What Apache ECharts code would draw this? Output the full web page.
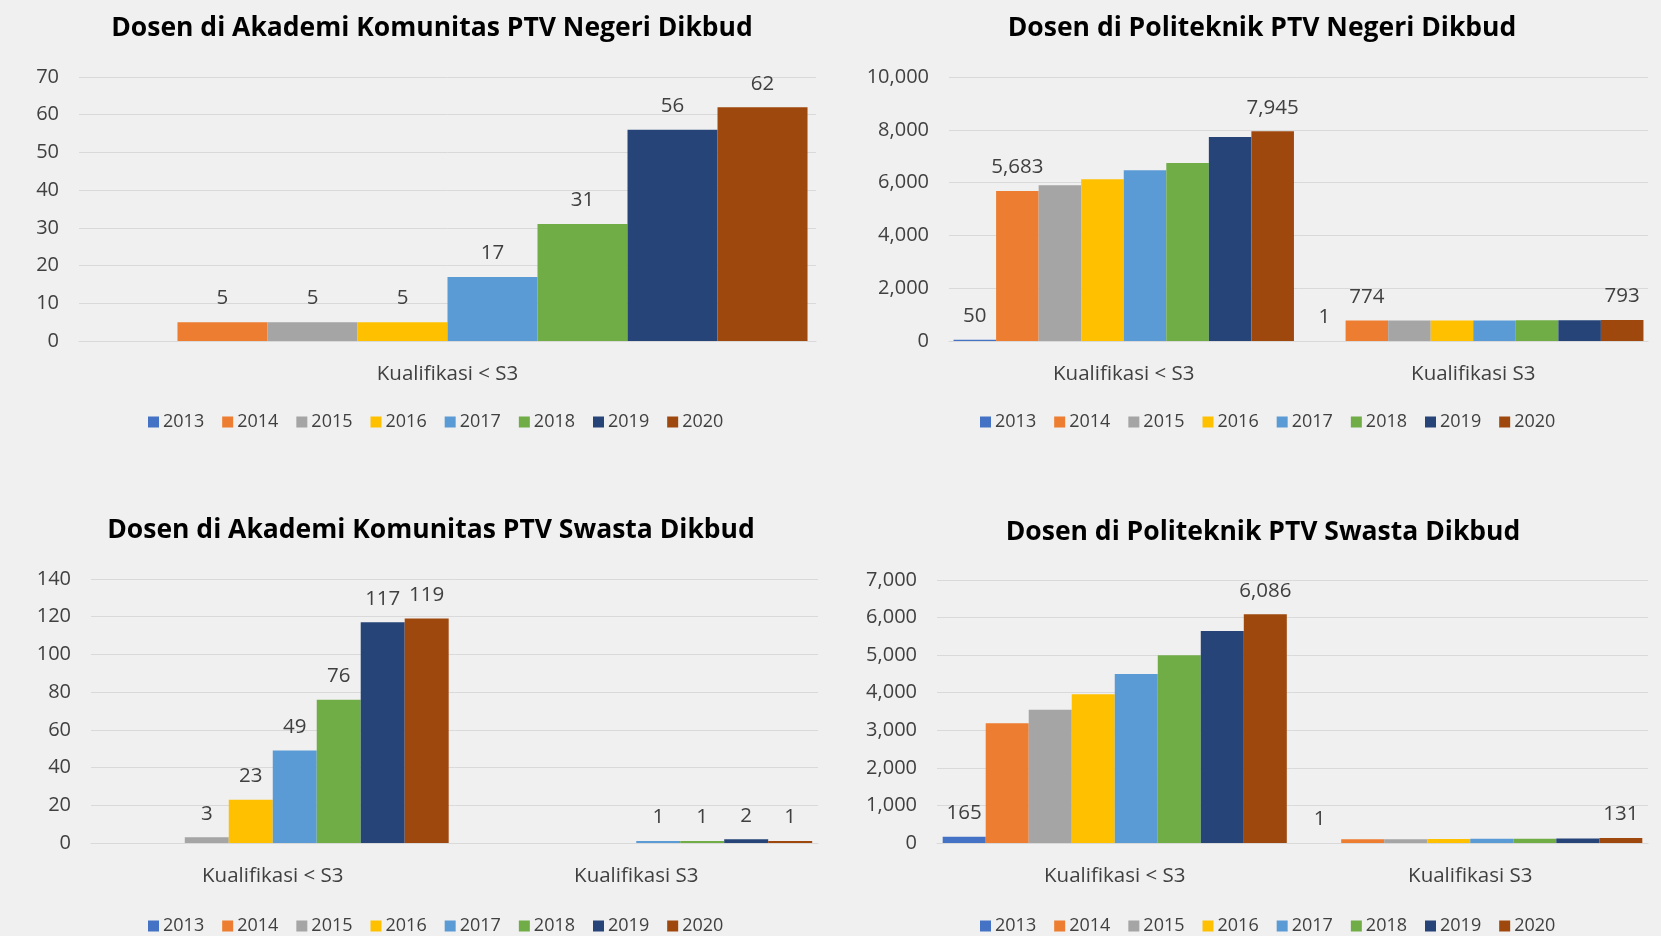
<!DOCTYPE html>
<html>
<head>
<meta charset="utf-8">
<script src="https://cdn.jsdelivr.net/npm/echarts@6/dist/echarts.min.js"></script>
<style>
html,body{margin:0;padding:0;background:#f0f0f0;}
#main{width:1661px;height:936px;}
</style>
</head>
<body>
<div id="main"></div>
<script>
// ---- data ----
const years = ['2013', '2014', '2015', '2016', '2017', '2018', '2019', '2020'];
const catsOne = ['Kualifikasi < S3'];
const catsTwo = ['Kualifikasi < S3', 'Kualifikasi S3'];
const colors = ['#4472C4', '#ED7D31', '#A5A5A5', '#FFC000', '#5B9BD5', '#70AD47', '#264478', '#9E480E'];

const titles = [
  'Dosen di Akademi Komunitas PTV Negeri Dikbud',
  'Dosen di Politeknik PTV Negeri Dikbud',
  'Dosen di Akademi Komunitas PTV Swasta Dikbud',
  'Dosen di Politeknik PTV Swasta Dikbud'
];

// values per year (2013..2020)
const akNegeriLt   = [null, 5, 5, 5, 17, 31, 56, 62];
const polNegeriLt  = [50, 5683, 5895, 6125, 6465, 6745, 7730, 7945];
const polNegeriS3  = [1, 774, 776, 778, 780, 783, 789, 793];
const akSwastaLt   = [null, null, 3, 23, 49, 76, 117, 119];
const akSwastaS3   = [null, null, null, null, 1, 1, 2, 1];
const polSwastaLt  = [165, 3190, 3545, 3960, 4500, 4995, 5645, 6086];
const polSwastaS3  = [1, 100, 102, 105, 110, 115, 122, 131];

// which data labels are shown (per year)
const showAll      = [1, 1, 1, 1, 1, 1, 1, 1];
const showPolNeg   = [1, 1, 0, 0, 0, 0, 0, 1];
const showPolSwa   = [1, 0, 0, 0, 0, 0, 0, 1];

// y axis ticks
const yMax      = [70, 10000, 140, 7000];
const yInterval = [10, 2000, 20, 1000];

// ---- layout ----
const grids = [
  {left: 79,  right: 845, top: 77,  bottom: 595},
  {left: 949, right: 13,  top: 77,  bottom: 595},
  {left: 91,  right: 843, top: 579, bottom: 93},
  {left: 937, right: 13,  top: 580, bottom: 93}
];
const titlePos = [[432, 28], [1262, 28], [431, 530], [1263, 532]];
const legendPos = [[148, 413], [980, 413], [148, 917], [980, 917]];
const catGaps = ['2.3%', '2.6%', '3.2%', '3.2%'];

const chartsData = [
  {cats: catsOne, cols: [akNegeriLt], show: [showAll]},
  {cats: catsTwo, cols: [polNegeriLt, polNegeriS3], show: [showPolNeg, showPolNeg]},
  {cats: catsTwo, cols: [akSwastaLt, akSwastaS3], show: [showAll, showAll]},
  {cats: catsTwo, cols: [polSwastaLt, polSwastaS3], show: [showPolSwa, showPolSwa]}
];

const FONT = '"Open Sans", "Noto Sans", sans-serif';
const fmt = v => Number(v).toLocaleString('en-US');

const option = {
  backgroundColor: '#f0f0f0',
  animation: false,
  textStyle: {fontFamily: FONT},
  title: titles.map((t, i) => ({
    text: t,
    left: titlePos[i][0],
    top: titlePos[i][1],
    textAlign: 'center',
    textVerticalAlign: 'middle',
    padding: 0,
    textStyle: {fontFamily: FONT, fontSize: 26.5, fontWeight: 'bold', color: '#000'}
  })),
  legend: legendPos.map(p => ({
    data: years,
    left: p[0],
    top: p[1],
    itemWidth: 11,
    itemHeight: 11,
    itemGap: 18,
    padding: 0,
    icon: 'rect',
    selectedMode: false,
    textStyle: {fontFamily: FONT, fontSize: 18, color: '#404040', padding: [0, 0, 0, -1]},
    itemStyle: {borderWidth: 0}
  })),
  grid: grids,
  xAxis: chartsData.map((c, i) => ({
    type: 'category',
    gridIndex: i,
    data: c.cats,
    axisLine: {show: true, lineStyle: {color: '#d9d9d9', width: 1}},
    axisTick: {show: false},
    axisLabel: {fontFamily: FONT, fontSize: 20.5, color: '#404040', margin: 23}
  })),
  yAxis: chartsData.map((c, i) => ({
    type: 'value',
    gridIndex: i,
    min: 0,
    max: yMax[i],
    interval: yInterval[i],
    axisLine: {show: false},
    axisTick: {show: false},
    splitLine: {lineStyle: {color: '#d9d9d9', width: 1}},
    axisLabel: {fontFamily: FONT, fontSize: 20, color: '#404040', margin: 20, formatter: v => fmt(v)}
  })),
  series: []
};

chartsData.forEach((c, gi) => {
  years.forEach((y, yi) => {
    option.series.push({
      name: y,
      type: 'bar',
      xAxisIndex: gi,
      yAxisIndex: gi,
      barGap: '0%',
      barCategoryGap: catGaps[gi],
      itemStyle: {color: colors[yi]},
      label: {
        show: false,
        position: 'top',
        distance: 13,
        fontFamily: FONT,
        fontSize: 20.5,
        color: '#404040',
        formatter: p => fmt(p.value)
      },
      data: c.cols.map((col, ci) => {
        const v = col[yi];
        if (v === null) return null;
        return {value: v, label: {show: !!c.show[ci][yi]}};
      })
    });
  });
});

const chart = echarts.init(document.getElementById('main'), null, {renderer: 'canvas'});
chart.setOption(option);
</script>
</body>
</html>
